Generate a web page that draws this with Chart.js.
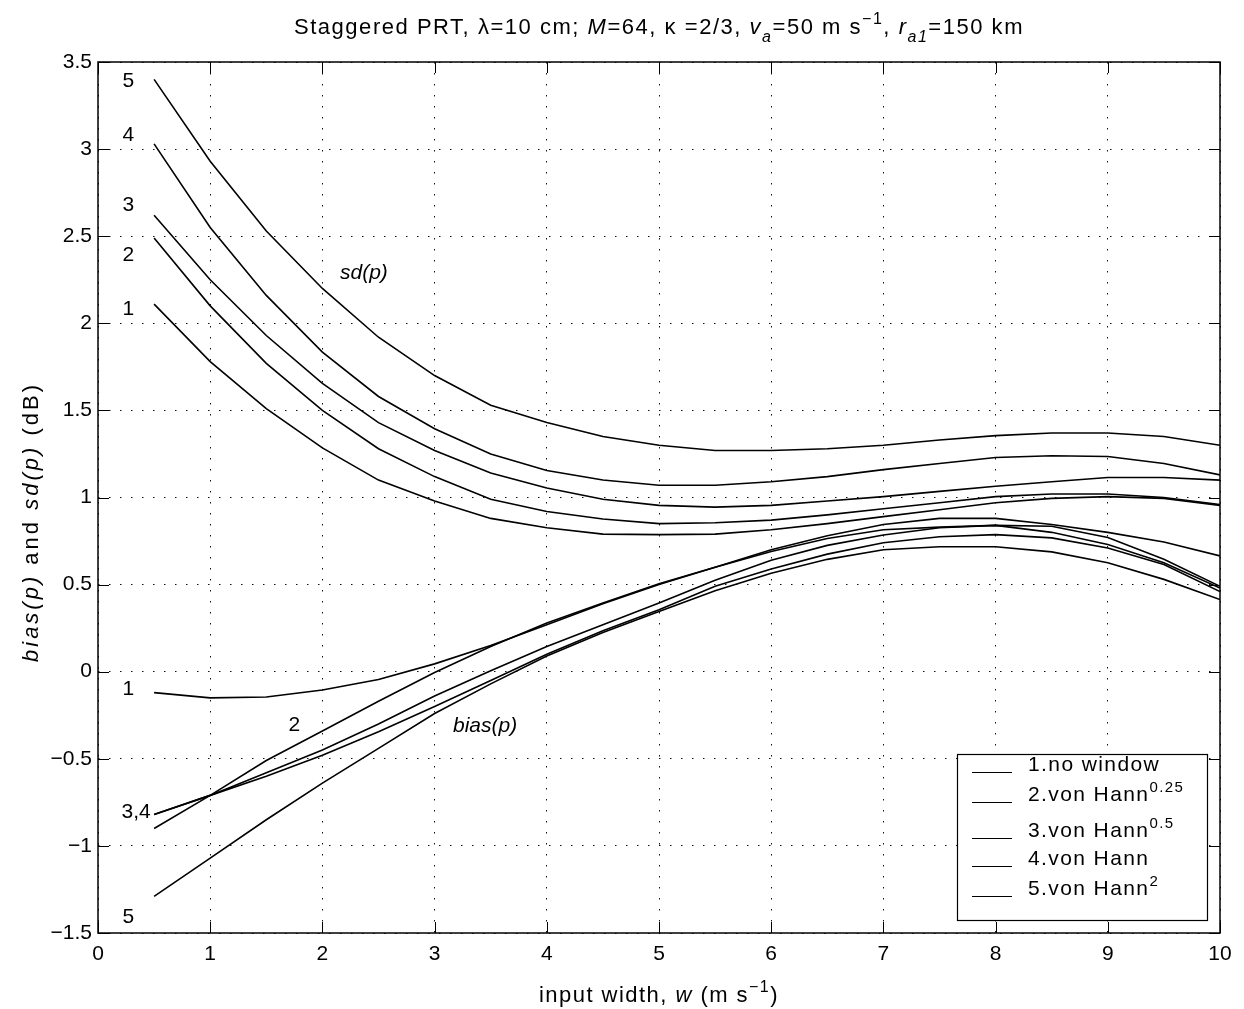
<!DOCTYPE html>
<html><head><meta charset="utf-8">
<script src="https://cdn.jsdelivr.net/npm/chart.js@4.4.1/dist/chart.umd.min.js"></script>
<style>html,body{margin:0;padding:0;background:#fff}#wrap{width:1244px;height:1009px}</style>
</head><body><div id="wrap"><canvas id="c" width="1244" height="1009"></canvas></div>
<script>
// ---- data ----
const widths = [0.5,1,1.5,2,2.5,3,3.5,4,4.5,5,5.5,6,6.5,7,7.5,8,8.5,9,9.5,10];

const sdNoWindow = [2.11,1.78,1.51,1.285,1.10,0.98,0.88,0.826,0.79,0.787,0.79,0.815,0.85,0.89,0.93,0.97,0.995,1.005,0.995,0.955];
const sdHann025  = [2.49,2.10,1.77,1.50,1.28,1.12,0.99,0.92,0.877,0.85,0.855,0.87,0.90,0.935,0.97,1.005,1.02,1.02,1.00,0.96];
const sdHann05   = [2.62,2.25,1.93,1.655,1.43,1.27,1.14,1.055,0.99,0.955,0.945,0.955,0.98,1.005,1.035,1.065,1.09,1.115,1.115,1.10];
const sdHann     = [3.03,2.55,2.16,1.835,1.58,1.395,1.25,1.155,1.10,1.07,1.07,1.09,1.12,1.16,1.195,1.23,1.24,1.235,1.195,1.13];
const sdHann2    = [3.40,2.93,2.53,2.20,1.92,1.70,1.53,1.43,1.35,1.30,1.27,1.27,1.28,1.30,1.33,1.355,1.37,1.37,1.35,1.30];

const biasNoWindow = [-0.12,-0.15,-0.145,-0.105,-0.045,0.045,0.15,0.27,0.39,0.50,0.60,0.70,0.78,0.845,0.88,0.88,0.845,0.80,0.745,0.665];
const biasHann025  = [-0.90,-0.71,-0.51,-0.34,-0.17,-0.005,0.145,0.28,0.395,0.505,0.60,0.69,0.765,0.815,0.83,0.84,0.835,0.77,0.645,0.49];
const biasHann05   = [-0.82,-0.71,-0.58,-0.45,-0.30,-0.14,0.005,0.145,0.27,0.395,0.525,0.64,0.725,0.785,0.826,0.84,0.80,0.73,0.625,0.48];
const biasHann     = [-0.82,-0.71,-0.60,-0.48,-0.345,-0.20,-0.05,0.10,0.235,0.355,0.49,0.59,0.675,0.74,0.775,0.787,0.768,0.71,0.615,0.46];
const biasHann2    = [-1.29,-1.07,-0.85,-0.64,-0.44,-0.24,-0.07,0.09,0.225,0.345,0.465,0.565,0.645,0.70,0.717,0.717,0.688,0.625,0.53,0.414];

const legendNames = ['1.no window','2.von Hann','3.von Hann','4.von Hann','5.von Hann'];
const legendPowers = ['','0.25','0.5','','2'];

const xTickValues = [0,1,2,3,4,5,6,7,8,9,10];
const yTickValues = [-1.5,-1,-0.5,0,0.5,1,1.5,2,2.5,3,3.5];

// ---- helpers ----
const FAM = "'Liberation Sans', Arial, Helvetica, sans-serif";
function runFont(r, size){
  const s = (r.sub||r.sup) ? Math.round(size*0.72) : size;
  return (r.it ? 'italic ' : '') + s + 'px ' + FAM;
}
function runsWidth(ctx, runs, size){
  let w = 0;
  for (const r of runs){ ctx.font = runFont(r,size); w += ctx.measureText(r.t).width; }
  return w;
}
function drawRich(ctx, runs, x, y, size, align, spacing, target){
  ctx.save();
  ctx.fillStyle = '#000';
  ctx.textAlign = 'left';
  ctx.textBaseline = 'alphabetic';
  ctx.letterSpacing = '0px';
  if (target){
    const w0 = runsWidth(ctx, runs, size);
    const n = runs.reduce((a,r)=>a+r.t.length,0);
    spacing = Math.max(0, Math.min(3, (target - w0)/n));
  }
  ctx.letterSpacing = (spacing||0) + 'px';
  const w = runsWidth(ctx, runs, size);
  let cx = align === 'center' ? x - w/2 : x;
  for (const r of runs){
    ctx.font = runFont(r,size);
    const dy = r.sub ? size*0.38 : (r.sup ? -size*0.45 : 0);
    ctx.fillText(r.t, cx, y+dy);
    cx += ctx.measureText(r.t).width;
  }
  ctx.restore();
}

const toPts = arr => arr.map((v,i)=>({x:widths[i], y:v}));
const series = [sdNoWindow, sdHann025, sdHann05, sdHann, sdHann2, biasNoWindow, biasHann025, biasHann05, biasHann, biasHann2];

const decor = {
  id: 'decor',
  afterDatasetsDraw(chart){
    const ctx = chart.ctx, a = chart.chartArea;
    const xs = chart.scales.x, ys = chart.scales.y;
    ctx.save();
    // box
    ctx.strokeStyle = '#000';
    ctx.lineWidth = 1.5;
    ctx.strokeRect(a.left, a.top, a.right-a.left, a.bottom-a.top);
    // inward ticks
    ctx.lineWidth = 1;
    const tl = 11;
    ctx.beginPath();
    for (const v of xTickValues){
      const px = Math.round(xs.getPixelForValue(v))+0.5;
      ctx.moveTo(px, a.bottom); ctx.lineTo(px, a.bottom-tl);
      ctx.moveTo(px, a.top); ctx.lineTo(px, a.top+tl);
    }
    for (const v of yTickValues){
      const py = Math.round(ys.getPixelForValue(v))+0.5;
      ctx.moveTo(a.left, py); ctx.lineTo(a.left+tl, py);
      ctx.moveTo(a.right, py); ctx.lineTo(a.right-tl, py);
    }
    ctx.stroke();

    // curve labels
    const lab = (t, x, y, it) => {
      ctx.save();
      ctx.font = (it?'italic ':'') + '21px ' + FAM;
      ctx.fillStyle = '#000';
      ctx.textAlign = 'center'; ctx.textBaseline = 'middle';
      ctx.fillText(t, xs.getPixelForValue(x), ys.getPixelForValue(y));
      ctx.restore();
    };
    lab('5', 0.27, 3.39); lab('4', 0.27, 3.08); lab('3', 0.27, 2.68); lab('2', 0.27, 2.39); lab('1', 0.27, 2.08);
    lab('1', 0.27, -0.10); lab('2', 1.75, -0.305); lab('3,4', 0.34, -0.805); lab('5', 0.27, -1.41);
    lab('sd(p)', 2.37, 2.29, true);
    lab('bias(p)', 3.45, -0.31, true);

    // legend
    const L = a.right - 13 - 250, T = a.bottom - 13 - 166, W = 250, H = 166;
    ctx.fillStyle = '#fff';
    ctx.fillRect(L, T, W, H);
    ctx.lineWidth = 1.2; ctx.strokeStyle = '#000';
    ctx.strokeRect(L+0.5, T+0.5, W, H);
    const rowBase = [17, 47, 83, 111, 141];
    for (let i=0;i<legendNames.length;i++){
      const by = T + rowBase[i];
      ctx.beginPath(); ctx.lineWidth = 1;
      ctx.moveTo(L+15, by+1.5); ctx.lineTo(L+55, by+1.5); ctx.stroke();
      const runs = [{t:legendNames[i]}];
      if (legendPowers[i]) runs.push({t:legendPowers[i], sup:true});
      drawRich(ctx, runs, L+71, by, 21, 'left', 1.4);
    }
    ctx.restore();

    // titles
    const cxm = (a.left+a.right)/2;
    drawRich(ctx, [
      {t:'Staggered PRT, λ=10 cm; '},{t:'M',it:true},{t:'=64, κ =2/3, '},
      {t:'v',it:true},{t:'a',it:true,sub:true},{t:'=50 m s'},{t:'−1',sup:true},{t:', '},
      {t:'r',it:true},{t:'a1',it:true,sub:true},{t:'=150 km'}
    ], cxm, 34, 22, 'center', 0, 730);
    drawRich(ctx, [{t:'input width, '},{t:'w',it:true},{t:' (m s'},{t:'−1',sup:true},{t:')'}],
      cxm, 1002, 22, 'center', 0, 240);
    ctx.save();
    ctx.translate(31, 522);
    ctx.rotate(-Math.PI/2);
    drawRich(ctx, [{t:'bias(p)',it:true},{t:' and '},{t:'sd(p)',it:true},{t:' (dB)'}], 0, 7, 22, 'center', 0, 333);
    ctx.restore();
  }
};

new Chart(document.getElementById('c'), {
  type: 'line',
  data: {
    datasets: series.map((arr,i)=>({
      label: 'series'+i,
      data: toPts(arr),
      borderColor: '#000',
      borderWidth: 1.6,
      pointRadius: 0,
      tension: 0,
      fill: false
    }))
  },
  options: {
    responsive: false,
    animation: false,
    devicePixelRatio: 1,
    layout: { padding: { left: 0, right: 24, top: 62, bottom: 0 } },
    plugins: { legend: { display: false }, title: { display: false }, tooltip: { enabled: false } },
    scales: {
      x: {
        type: 'linear', min: 0, max: 10,
        afterBuildTicks: s => { s.ticks = xTickValues.map(v=>({value:v})); },
        afterFit: s => { s.height = 76; },
        grid: { color: '#111', lineWidth: 1, drawTicks: false },
        border: { display: false, dash: [1.5, 9.5] },
        ticks: { color: '#000', font: { family: FAM, size: 21 }, padding: 9, maxRotation: 0,
                 callback: v => String(v).replace('-', '−') }
      },
      y: {
        type: 'linear', min: -1.5, max: 3.5,
        afterBuildTicks: s => { s.ticks = yTickValues.map(v=>({value:v})); },
        afterFit: s => { s.width = 98; },
        grid: { color: '#111', lineWidth: 1, drawTicks: false },
        border: { display: false, dash: [1.5, 9.5] },
        ticks: { color: '#000', font: { family: FAM, size: 21 }, padding: 6,
                 callback: v => String(v).replace('-', '−') }
      }
    }
  },
  plugins: [decor]
});
</script>
</body></html>
